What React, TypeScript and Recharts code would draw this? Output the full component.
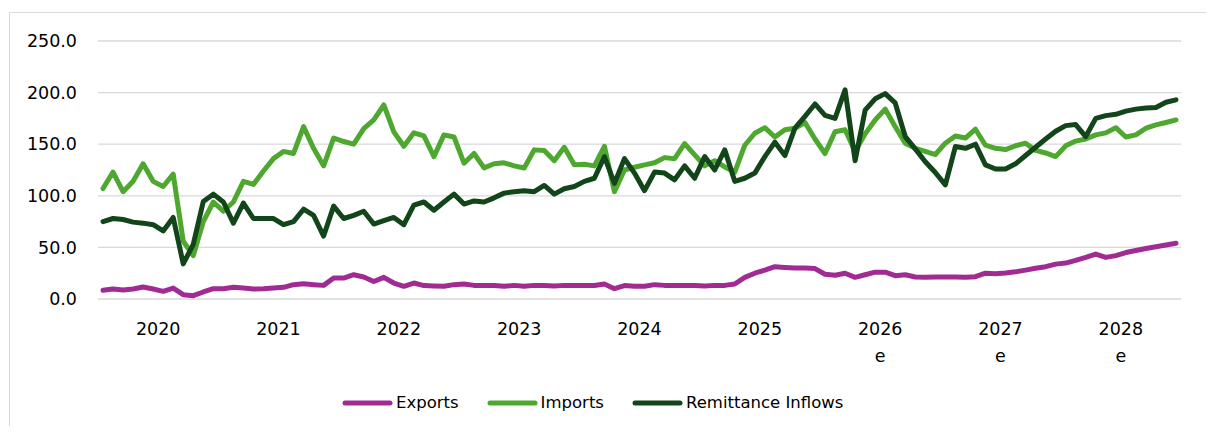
import React from 'react';
import { LineChart, Line, XAxis, YAxis, CartesianGrid, Legend } from 'recharts';

// monthly values, Jan 2020 .. Dec 2028 (2026+ are estimates)
const exportsSeries = [
    8.4, 9.7, 8.7, 9.7, 11.6, 9.7, 7.4, 10.6, 4.2, 3.2, 6.8, 10,
    10, 11.3, 10.6, 9.7, 10, 10.6, 11.3, 13.9, 14.8, 13.9, 13.2, 20.3,
    20.3, 23.5, 21.3, 17, 21, 15.5, 12.3, 15.5, 13, 12.6, 12.3, 13.9,
    14.5, 13.2, 13, 13, 12.3, 13.2, 12.3, 13.2, 13, 12.6, 13.2, 13.2,
    13.2, 13, 14.5, 10, 13, 12.3, 12.3, 13.9, 13.2, 13, 13.2, 13,
    12.6, 13.2, 13.2, 14.5, 21, 25, 28, 31.3, 30.6, 30, 30, 29.5,
    24, 23, 25, 21, 23.5, 26, 26, 22.6, 23.5, 21.3, 21, 21.3,
    21.3, 21.3, 21, 21.6, 25, 24.5, 25.2, 26.3, 28, 29.8, 31.3, 33.8,
    34.8, 37.4, 40.3, 43.5, 40.3, 42, 45, 47, 49, 50.6, 52.3, 54,
];

const importsSeries = [
    107, 123, 104, 114, 131, 114, 109, 121, 56, 42, 75, 94,
    85, 94, 114, 111, 124, 136, 143, 141, 167, 146, 129, 156,
    152.6, 150, 165, 173.5, 188, 162, 148, 161, 158, 138, 159, 157,
    131.6, 141, 127, 131, 132, 129, 127, 144.5, 144, 134, 147, 130,
    130.6, 129, 148, 104, 125, 127.7, 130, 132, 137, 136, 150.6, 139.7,
    129, 134, 128, 123, 149, 160.6, 166, 157, 164, 165.5, 171, 155,
    141, 162, 164, 143, 160, 173.5, 184, 167, 151, 146, 143, 140,
    151, 158, 156, 164.5, 149, 146, 144.8, 148.5, 151, 144, 141.5, 138,
    148.4, 153, 155, 159, 161, 166, 157, 159, 165.5, 168.7, 171, 173.5,
];

const remittanceSeries = [
    75, 78, 77, 74.5, 73.5, 72, 66, 79, 34, 53, 94.5, 101.6,
    94, 73.5, 93, 78, 78, 78, 72, 75, 87, 81, 61, 90,
    78, 81, 85, 72.6, 76, 79, 72, 91, 94, 86, 94, 101.6,
    92, 95, 94, 98, 102.6, 104, 105, 104, 110, 101.6, 106.8, 109,
    114, 117, 138, 112, 136, 122, 105, 123, 122, 115.5, 129, 117,
    138, 125, 144.5, 114, 117, 122, 138, 152, 139, 165.5, 177, 189,
    178, 175, 202.6, 134, 183, 194, 199, 190, 157.4, 145.5, 133, 122.6,
    110.6, 147.7, 146, 150, 130, 126, 126, 131, 139, 147, 155, 162.5,
    168, 169, 157.4, 175, 177.7, 179, 182, 184, 185, 185.5, 190.6, 193,
];

const yearLabels = ['2020', '2021', '2022', '2023', '2024', '2025', '2026\ne', '2027\ne', '2028\ne'];
const yTicks = [0, 50, 100, 150, 200, 250];

const data = exportsSeries.map((v, i) => ({
    x: i + 0.5,
    exports: v,
    imports: importsSeries[i],
    remittance: remittanceSeries[i],
}));

const yearTicks = yearLabels.map((_, i) => i * 12 + 6);

const FONT = '"DejaVu Sans", sans-serif';

function YearTick({ x, y, payload }: any) {
    const idx = yearTicks.indexOf(payload.value);
    const lines = (yearLabels[idx] || '').split('\n');
    return (
        <g>
            {lines.map((t, k) => (
                <text key={k} x={x} y={y + 34 + k * 27} textAnchor="middle" fill="#000" fontSize={17.5} fontFamily={FONT}>
                    {t}
                </text>
            ))}
        </g>
    );
}

function LegendContent({ payload }: any) {
    return (
        <div style={{ display: 'flex', alignItems: 'center', fontFamily: FONT, fontSize: 16.5, color: '#000', lineHeight: '20px' }}>
            {(payload || []).map((p: any, i: number) => (
                <div key={i} style={{ display: 'flex', alignItems: 'center', marginRight: 28 }}>
                    <svg width={51} height={10} style={{ marginRight: 3 }}>
                        <line x1={3} y1={5} x2={48} y2={5} stroke={p.color} strokeWidth={5} strokeLinecap="round" />
                    </svg>
                    <span>{p.value}</span>
                </div>
            ))}
        </div>
    );
}

export default function App() {
    return (
        <div style={{ position: 'relative', width: 1198, height: 418, fontFamily: FONT }}>
            <div style={{
                position: 'absolute', left: 1, top: 4, width: 1204, height: 421,
                borderTop: '1.5px solid #d9d9d9', borderLeft: '1.5px solid #d9d9d9', boxSizing: 'border-box',
            }} />
            <LineChart width={1198} height={418} data={data} margin={{ top: 33, right: 25, left: 0, bottom: 0 }}>
                <CartesianGrid vertical={false} stroke="#d9d9d9" strokeWidth={1.3} />
                <XAxis
                    dataKey="x"
                    type="number"
                    domain={[0, 108]}
                    ticks={yearTicks}
                    interval={0}
                    axisLine={false}
                    tickLine={false}
                    tickSize={0}
                    height={127}
                    tick={<YearTick />}
                />
                <YAxis
                    domain={[0, 250]}
                    ticks={yTicks}
                    width={90}
                    axisLine={false}
                    tickLine={false}
                    tickSize={0}
                    tickMargin={21}
                    tickFormatter={(v: number) => v.toFixed(1)}
                    tick={{ fill: '#000', fontSize: 17.5, fontFamily: FONT }}
                />
                <Legend
                    layout="horizontal"
                    verticalAlign="middle"
                    align="center"
                    wrapperStyle={{ top: 385, left: 334, width: 'auto' }}
                    content={<LegendContent />}
                />
                <Line type="linear" dataKey="exports" name="Exports" stroke="#A02B93" strokeWidth={5} dot={false}
                    strokeLinejoin="round" strokeLinecap="round" isAnimationActive={false} />
                <Line type="linear" dataKey="imports" name="Imports" stroke="#4EA72E" strokeWidth={5} dot={false}
                    strokeLinejoin="round" strokeLinecap="round" isAnimationActive={false} />
                <Line type="linear" dataKey="remittance" name="Remittance Inflows" stroke="#124519" strokeWidth={5} dot={false}
                    strokeLinejoin="round" strokeLinecap="round" isAnimationActive={false} />
            </LineChart>
        </div>
    );
}
